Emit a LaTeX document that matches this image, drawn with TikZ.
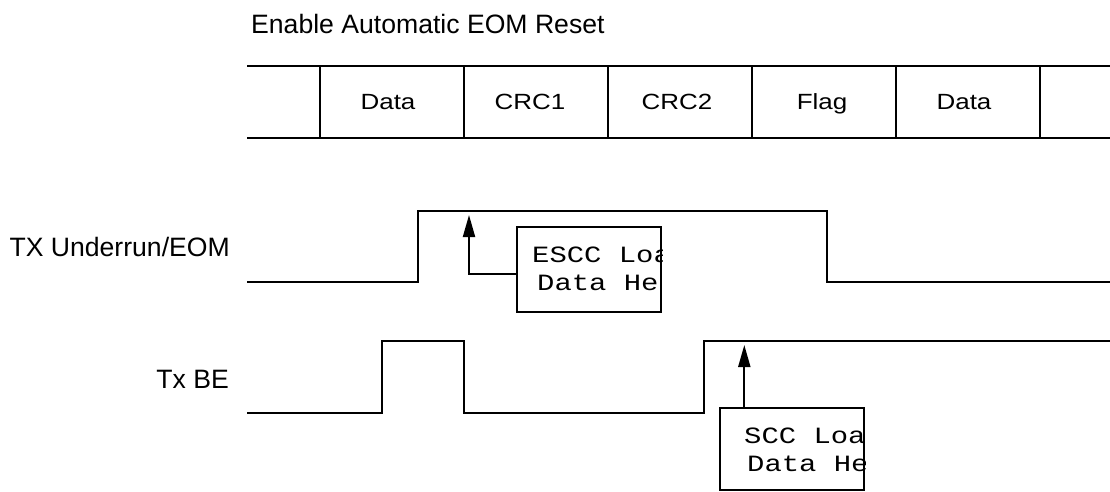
\documentclass[tikz,border=0pt]{standalone}
\usepackage{fontspec}
\setmainfont{Liberation Sans}
\newfontfamily\cellfont[FakeStretch=1.18]{Liberation Sans}
\newfontfamily\monof[FakeStretch=1.24]{Liberation Mono}
\usetikzlibrary{arrows.meta,calc}
\tikzset{
  wire/.style={line width=2pt, line join=miter},
  sigarrow/.style={line width=2pt, -{Triangle[length=22pt,width=12pt]}},
  label/.style={inner sep=0pt, font=\fontsize{26.6}{30}\selectfont},
  celltext/.style={inner sep=0pt, font=\cellfont\fontsize{22}{26}\selectfont, anchor=base},
  notebox/.style={draw, line width=2pt, minimum width=144pt, inner sep=0pt},
  monotext/.style={inner sep=0pt, anchor=base west, font=\monof\fontsize{23.3}{28}\selectfont}
}
\begin{document}
\begin{tikzpicture}[x=1pt,y=-1pt]
\useasboundingbox (0,0) rectangle (1110,491);
% title
\node[label, anchor=base west] (title) at (251,33.3) {Enable Automatic EOM Reset};
% frame
\draw[wire] (247,66) -- (1110,66);
\draw[wire] (247,138) -- (1110,138);
\foreach \x in {320,464,608,752,896,1040} \draw[wire] (\x,66) -- (\x,138);
\node[celltext] (c1) at (388,109.5) {Data};
\node[celltext] (c2) at (530,109.5) {CRC1};
\node[celltext] (c3) at (677,109.5) {CRC2};
\node[celltext] (c4) at (822,109.5) {Flag};
\node[celltext] (c5) at (964,109.5) {Data};
% signal labels
\node[label, anchor=base east] (l1) at (230,256.7) {TX Underrun/EOM};
\node[label, anchor=base east] (l2) at (229,388) {Tx BE};
% signals
\draw[wire] (247,282) -- (418,282) -- (418,211) -- (827,211) -- (827,282) -- (1110,282);
\draw[wire] (247,413) -- (382,413) -- (382,341) -- (464,341) -- (464,413) -- (704,413) -- (704,341) -- (1110,341);
% box 1
\node[notebox, minimum height=85pt] (b1) at (589,269.2) {};
\begin{scope}
\clip (b1.south west) rectangle (b1.north east);
\node[monotext] (t1a) at (532,262.3) {ESCC Loa};
\node[monotext] (t1b) at (537,290) {Data He};
\end{scope}
\coordinate (a1) at (469,215);
\draw[sigarrow] (b1.west |- 0,274.3) -| (a1);
% box 2
\node[notebox, minimum height=81.7pt] (b2) at (792,449.2) {};
\begin{scope}
\clip (b2.south west) rectangle (b2.north east);
\node[monotext] (t2a) at (744,443.4) {SCC Loa};
\node[monotext] (t2b) at (747,471.7) {Data He};
\end{scope}
\coordinate (a2) at (744.3,345);
\draw[sigarrow] (a2 |- b2.north) -- (a2);
\end{tikzpicture}
\end{document}
